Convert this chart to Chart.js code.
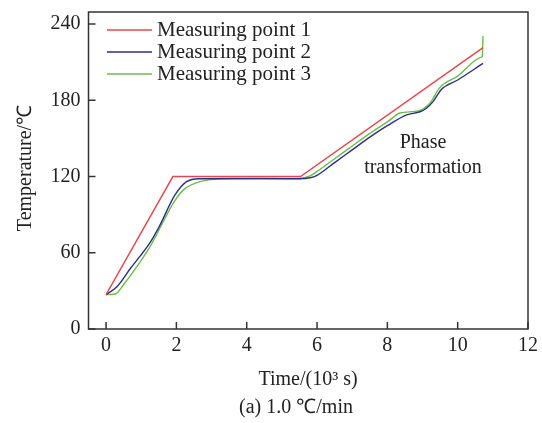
<!DOCTYPE html>
<html>
<head>
<meta charset="utf-8">
<script src="https://cdn.jsdelivr.net/npm/chart.js@4"></script>
<style>
  html, body { margin: 0; padding: 0; background: #fff; }
  #wrap { width: 542px; height: 423px; }
</style>
</head>
<body>
<div id="wrap"><canvas id="tempChart" width="542" height="423"></canvas></div>
<script>
// Time in 10^3 s, temperature in degC
const timeP1 = [0, 1.9, 5.53, 10.72];
const tempP1 = [27, 120, 120, 221.5];

const timeP2 = [0, 0.3, 0.7, 1.25, 1.5, 1.96, 2.29, 2.67, 3.5, 5.5, 5.8, 6.0, 6.5, 7.0, 7.5, 8.0, 8.55, 8.93, 9.11, 9.3, 9.54, 10.0, 10.72];
const tempP2 = [27, 33, 48, 68, 80, 105.5, 116, 118.3, 118.5, 118.3, 119, 121, 131, 141, 151, 160, 168.5, 171, 173.8, 179, 188.7, 196, 209];

const timeP3 = [0, 0.26, 0.5, 0.9, 1.25, 1.6, 1.91, 2.2, 2.67, 3.24, 5.5, 5.8, 6.0, 6.5, 7.0, 7.5, 8.0, 8.36, 8.88, 9.21, 9.49, 10.0, 10.68, 10.7, 10.72];
const tempP3 = [27, 27.5, 35, 50, 64.8, 83, 99, 109.5, 116, 118, 118.5, 120.5, 124, 134, 144, 154, 163, 170, 171.7, 177.7, 190, 199, 214, 214.5, 230.7];

const seriesNames = ['Measuring point 1', 'Measuring point 2', 'Measuring point 3'];
const xTickValues = [0, 2, 4, 6, 8, 10, 12];
const yTickValues = [0, 60, 120, 180, 240];

const serif = '"Liberation Serif", "Times New Roman", serif';
const colors = ['#e9454f', '#2a3086', '#6cbd48'];

function toPoints(xs, ys) {
    return xs.map((x, i) => ({ x: x, y: ys[i] }));
}

// Frame, inward ticks, legend and text labels
const decorations = {
    id: 'decorations',
    afterDraw(chart) {
        const ctx = chart.ctx;
        const area = chart.chartArea;
        const xs = chart.scales.x;
        const ys = chart.scales.y;
        ctx.save();
        ctx.strokeStyle = '#333';
        ctx.lineWidth = 1.5;
        ctx.strokeRect(area.left, area.top, area.right - area.left, area.bottom - area.top);

        ctx.beginPath();
        xTickValues.forEach(v => {
            const px = xs.getPixelForValue(v);
            ctx.moveTo(px, area.bottom);
            ctx.lineTo(px, area.bottom - 7);
        });
        yTickValues.forEach(v => {
            const py = ys.getPixelForValue(v);
            ctx.moveTo(area.left, py);
            ctx.lineTo(area.left + 7, py);
        });
        ctx.stroke();

        // legend
        ctx.font = '21px ' + serif;
        ctx.fillStyle = '#222';
        ctx.textBaseline = 'middle';
        ctx.textAlign = 'left';
        seriesNames.forEach((name, i) => {
            const y = 30 + i * 22;
            ctx.strokeStyle = colors[i];
            ctx.lineWidth = 1.5;
            ctx.beginPath();
            ctx.moveTo(107, y);
            ctx.lineTo(152, y);
            ctx.stroke();
            ctx.fillText(name, 157, y);
        });

        // annotation
        ctx.font = '20px ' + serif;
        ctx.textAlign = 'center';
        ctx.fillText('Phase', 423, 143);
        ctx.fillText('transformation', 423, 168);

        // axis titles and caption
        ctx.fillText('Time/(10\u00b3 s)', 308, 380);
        ctx.fillText('(a) 1.0 \u2103/min', 296, 408);
        ctx.translate(26, 168);
        ctx.rotate(-Math.PI / 2);
        ctx.fillText('Temperature/\u2103', 0, 0);
        ctx.restore();
    }
};

const ctx = document.getElementById('tempChart').getContext('2d');
const chart = new Chart(ctx, {
    type: 'scatter',
    data: {
        datasets: [
            { label: seriesNames[0], data: toPoints(timeP1, tempP1), borderColor: colors[0] },
            { label: seriesNames[1], data: toPoints(timeP2, tempP2), borderColor: colors[1], cubicInterpolationMode: 'monotone' },
            { label: seriesNames[2], data: toPoints(timeP3, tempP3), borderColor: colors[2], cubicInterpolationMode: 'monotone' }
        ].map(d => Object.assign({ showLine: true, pointRadius: 0, borderWidth: 1.4, fill: false }, d))
    },
    options: {
        responsive: false,
        animation: false,
        layout: { padding: { top: 12, right: 14, left: 0, bottom: 0 } },
        plugins: { legend: { display: false }, tooltip: { enabled: false } },
        scales: {
            x: {
                type: 'linear',
                min: -0.5,
                max: 12,
                afterBuildTicks: s => { s.ticks = xTickValues.map(v => ({ value: v })); },
                afterFit: s => { s.height = 94; s.paddingLeft = 0; s.paddingRight = 0; },
                grid: { display: false, drawTicks: false },
                border: { display: false },
                ticks: { color: '#222', font: { family: serif, size: 20 }, padding: 5 }
            },
            y: {
                min: 0,
                max: 249.5,
                afterBuildTicks: s => { s.ticks = yTickValues.map(v => ({ value: v })); },
                afterFit: s => { s.width = 88.5; s.paddingTop = 0; s.paddingBottom = 0; },
                grid: { display: false, drawTicks: false },
                border: { display: false },
                ticks: { color: '#222', font: { family: serif, size: 20 }, padding: 8 }
            }
        }
    },
    plugins: [decorations]
});
</script>
</body>
</html>
